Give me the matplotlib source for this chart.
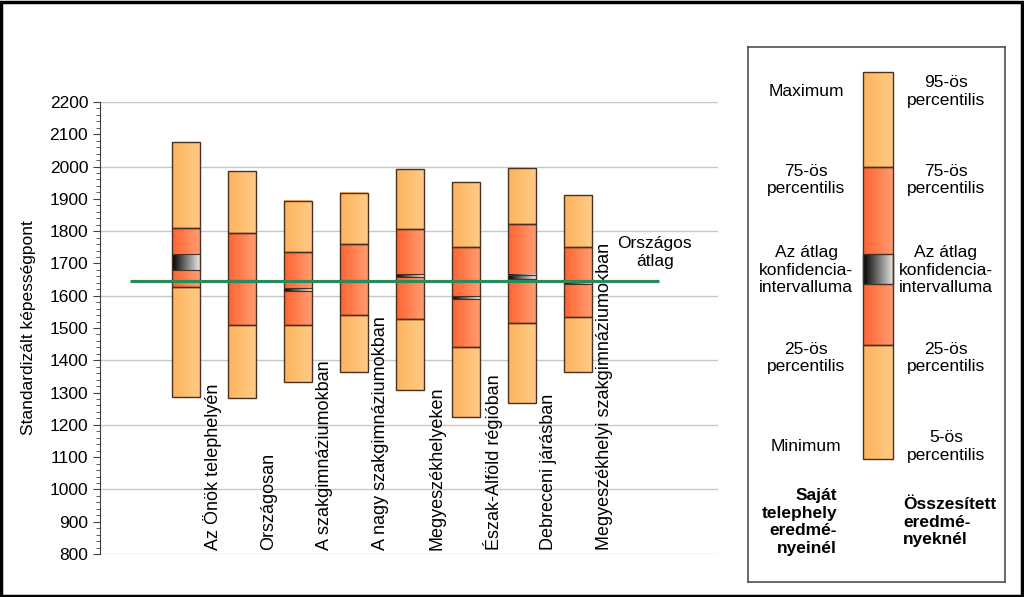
import matplotlib.pyplot as plt
import numpy as np
from matplotlib.colors import LinearSegmentedColormap
from matplotlib.patches import Rectangle

plt.rcParams['font.family'] = ['Liberation Sans', 'DejaVu Sans']

categories = ["Az Önök telephelyén", "Országosan", "A szakgimnáziumokban",
              "A nagy szakgimnáziumokban", "Megyeszékhelyeken",
              "Észak-Alföld régióban", "Debreceni járásban",
              "Megyeszékhelyi szakgimnáziumokban"]
p_low = [1286, 1283, 1333, 1364, 1308, 1224, 1268, 1364]
p25 = [1627, 1509, 1509, 1540, 1528, 1441, 1516, 1534]
p75 = [1810, 1794, 1735, 1760, 1807, 1751, 1822, 1752]
p_high = [2076, 1986, 1893, 1918, 1992, 1952, 1996, 1912]
ci_low = [1680, 1643, 1615, 1643, 1659, 1591, 1651, 1637]
ci_high = [1729, 1649, 1624, 1649, 1666, 1598, 1664, 1642]
national_mean = 1646

light = LinearSegmentedColormap.from_list("light", ["#FDB35C", "#FFCB86"])
red = LinearSegmentedColormap.from_list("red", ["#FF6430", "#FF9C72"])
ci_map = LinearSegmentedColormap.from_list("ci", ["#000000", "#E8E8E8"])
edge = "#4A3020"
grad = np.linspace(0, 1, 64).reshape(1, -1)


def seg(ax, x, lo, hi, w, cmap, lw=1.0):
    ax.imshow(grad, extent=[x - w / 2, x + w / 2, lo, hi], aspect="auto",
              cmap=cmap, zorder=2, interpolation="bilinear")
    ax.add_patch(Rectangle((x - w / 2, lo), w, hi - lo, fill=False,
                           edgecolor=edge, lw=lw, zorder=3))


fig = plt.figure(figsize=(10.24, 5.97), dpi=100)
ax = fig.add_axes([100 / 1024, 1 - 554 / 597, 618 / 1024, 452 / 597])

w = 0.5
for i in range(len(categories)):
    seg(ax, i, p_low[i], p25[i], w, light)
    seg(ax, i, p25[i], p75[i], w, red)
    seg(ax, i, p75[i], p_high[i], w, light)
    seg(ax, i, ci_low[i], ci_high[i], w, ci_map, lw=0.8)
    ax.text(i + 0.48, 813, categories[i], rotation=90, ha="center",
            va="bottom", fontsize=13)

ax.hlines(national_mean, -1.0, 8.45, color="#2A8A5A", lw=2.3, zorder=4)
ax.text(8.37, 1735, "Országos\nátlag", ha="center", va="center",
        fontsize=12.5, linespacing=1.25)

ax.set_xlim(-1.536, 9.5)
ax.set_ylim(800, 2200)
ax.set_yticks(np.arange(800, 2201, 100))
ax.set_yticks(np.arange(800, 2201, 20), minor=True)
for y in range(800, 2201, 200):
    ax.axhline(y, color="#C8C8C8", lw=1, zorder=0)
ax.tick_params(axis="y", which="major", length=5, labelsize=12.5, color="#404040")
ax.tick_params(axis="y", which="minor", length=3, color="#404040")
ax.set_xticks([])
for s in ["top", "right", "bottom"]:
    ax.spines[s].set_visible(False)
ax.spines["left"].set_color("#404040")
ax.set_ylabel("Standardizált képességpont", fontsize=12.5, labelpad=10)

# legend panel
lg = fig.add_axes([748 / 1024, 1 - 582 / 597, 257 / 1024, 535 / 597])
lg.set_xticks([])
lg.set_yticks([])
for s in lg.spines.values():
    s.set_color("#505050")
    s.set_linewidth(1.2)

lx, lw_ = 0.5055, 0.117
lev = [0.230, 0.443, 0.557, 0.613, 0.776, 0.953]
seg(lg, lx, lev[0], lev[1], lw_, light)
seg(lg, lx, lev[1], lev[4], lw_, red)
seg(lg, lx, lev[4], lev[5], lw_, light)
seg(lg, lx, lev[2], lev[3], lw_, ci_map)
lg.set_xlim(0, 1)
lg.set_ylim(0, 1)

left_txt = ["Maximum", "75-ös\npercentilis", "Az átlag\nkonfidencia-\nintervalluma",
            "25-ös\npercentilis", "Minimum"]
right_txt = ["95-ös\npercentilis", "75-ös\npercentilis",
             "Az átlag\nkonfidencia-\nintervalluma", "25-ös\npercentilis",
             "5-ös\npercentilis"]
ty = [0.917, 0.751, 0.583, 0.419, 0.253]
for t, y in zip(left_txt, ty):
    lg.text(0.226, y, t, ha="center", va="center", fontsize=12.5, linespacing=1.2)
for t, y in zip(right_txt, ty):
    lg.text(0.77, y, t, ha="center", va="center", fontsize=12.5, linespacing=1.2)
lg.text(0.346, 0.112, "Saját\ntelephely\neredmé-\nnyeinél", ha="right",
        va="center", fontsize=12.5, fontweight="bold", linespacing=1.2)
lg.text(0.603, 0.112, "Összesített\neredmé-\nnyeknél", ha="left",
        va="center", fontsize=12.5, fontweight="bold", linespacing=1.2)

fig.add_artist(Rectangle((0.001, 0.002), 0.997, 0.995, fill=False,
                         edgecolor="black", lw=2.5, transform=fig.transFigure))

fig.savefig("out.png", dpi=100)
